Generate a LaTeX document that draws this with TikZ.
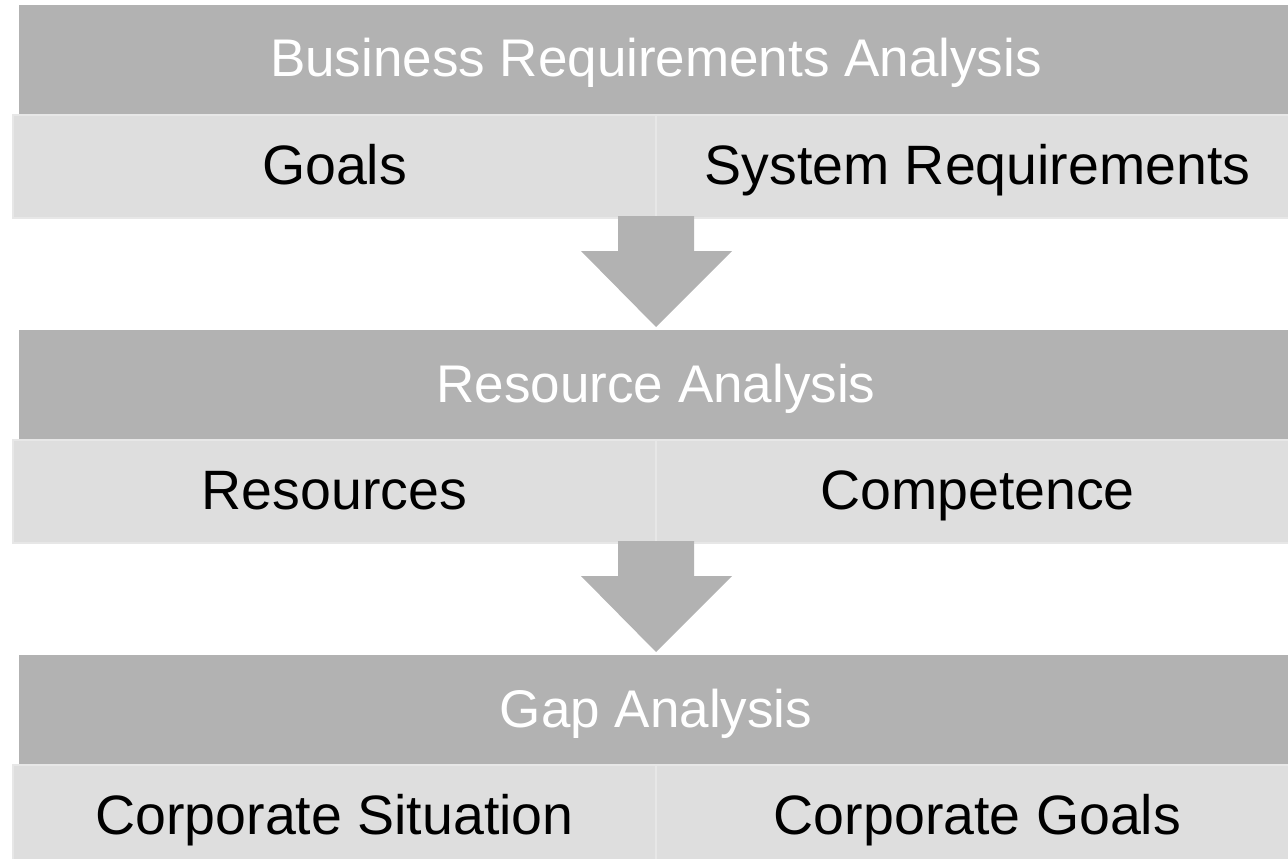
\documentclass[tikz,border=0pt]{standalone}
\usepackage{fontspec}
\setmainfont{Liberation Sans}
\usetikzlibrary{calc}
\definecolor{headgray}{HTML}{B2B2B2}
\definecolor{cellgray}{HTML}{DEDEDE}
\definecolor{celledge}{HTML}{E7E7E7}
\begin{document}
\begin{tikzpicture}[x=1pt, y=-1pt,
		header/.style={rectangle, fill=headgray, text=white, font=\fontsize{53}{60}\selectfont, minimum width=1274pt, minimum height=110pt, text height=40pt, text depth=6pt, inner sep=0mm, outer sep=0mm},
		cell/.style={rectangle, fill=cellgray, draw=celledge, line width=1.5pt, font=\fontsize{55.5}{62}\selectfont, minimum width=643pt, minimum height=103pt, text height=41pt, text depth=6pt, inner sep=0mm, outer sep=0mm},
		flow/.style={fill=headgray}]
		\clip (0,0) rectangle (1288,859);
		\node[header] at (656,60) (bra) {Business Requirements Analysis};
		\node[cell] at (334.5,166.5) (goals) {Goals};
		\node[cell] at (977.5,166.5) (sysreq) {System Requirements};
		\node[header] at (656,385) (resana) {Resource Analysis};
		\node[cell] at (334.5,491.5) (resources) {Resources};
		\node[cell] at (977.5,491.5) (competence) {Competence};
		\node[header] at (656,710) (gapana) {Gap Analysis};
		\node[cell] at (334.5,816.5) (corpsit) {Corporate Situation};
		\node[cell] at (977.5,816.5) (corpgoals) {Corporate Goals};
		\foreach \from/\to in {goals/resana, resources/gapana}
			\fill[flow] ($(\from.south east)+(-38,-2)$) -- ++(76,0) -- ++(0,35) -- ++(38,0)
			-- ($(\to.north)+(0,-3)$) -- ++(-75,-76) -- ++(37,0) -- cycle;
	\end{tikzpicture}
\end{document}
